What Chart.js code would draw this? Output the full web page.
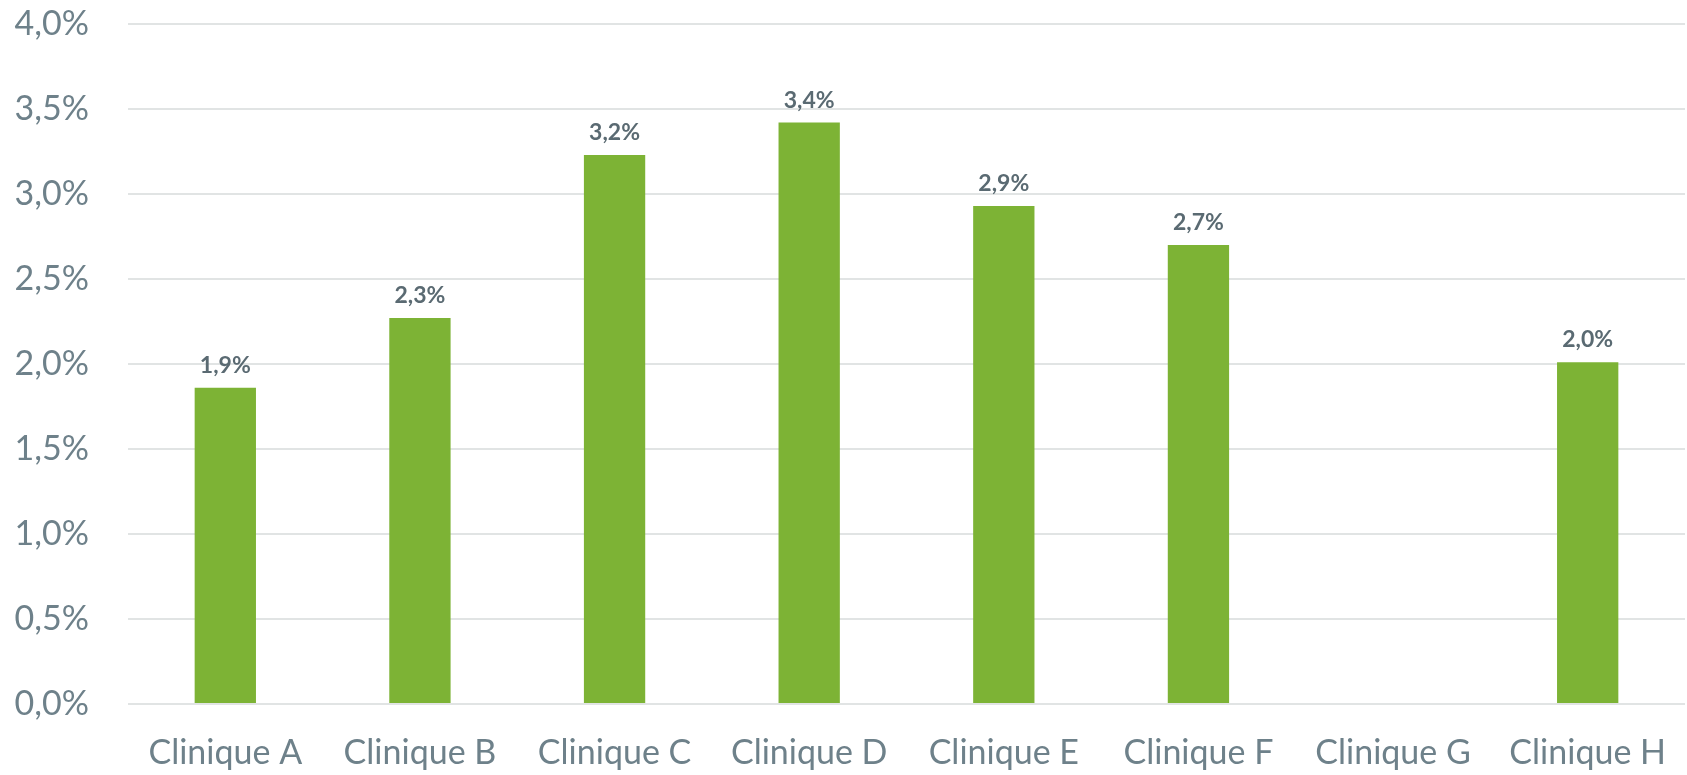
<!DOCTYPE html>
<html>
<head>
<meta charset="utf-8">
<script src="https://cdn.jsdelivr.net/npm/chart.js@4/dist/chart.umd.min.js"></script>
<style>
  html, body { margin: 0; padding: 0; background: #fff; }
  #wrap { width: 1687px; height: 775px; }
</style>
</head>
<body>
<div id="wrap"><canvas id="rateChart"></canvas></div>
<script>
const cliniques = ['Clinique A', 'Clinique B', 'Clinique C', 'Clinique D', 'Clinique E', 'Clinique F', 'Clinique G', 'Clinique H'];
const taux = [1.86, 2.27, 3.23, 3.42, 2.93, 2.70, null, 2.01];
const yMax = 4.0;
const yStep = 0.5;

const fmt = (v, d) => v.toFixed(d).replace('.', ',') + '%';

// values written above each bar
const barLabels = {
    id: 'barLabels',
    afterDatasetsDraw(chart) {
        const ctx = chart.ctx;
        const meta = chart.getDatasetMeta(0);
        ctx.save();
        ctx.font = 'bold 23px Lato';
        ctx.fillStyle = '#5a6a72';
        ctx.textAlign = 'center';
        ctx.textBaseline = 'alphabetic';
        meta.data.forEach((bar, i) => {
            const v = taux[i];
            if (v == null) return;
            ctx.fillText(fmt(v, 1), bar.x, bar.y - 15);
        });
        ctx.restore();
    }
};

const ctx = document.getElementById('rateChart').getContext('2d');
new Chart(ctx, {
    type: 'bar',
    data: {
        labels: cliniques,
        datasets: [{
            data: taux,
            backgroundColor: '#7db335',
            categoryPercentage: 1,
            barPercentage: 0.315
        }]
    },
    options: {
        responsive: true,
        maintainAspectRatio: false,
        animation: false,
        layout: { padding: { top: 24, right: 2, left: 0, bottom: 0 } },
        plugins: {
            legend: { display: false },
            tooltip: { enabled: false }
        },
        scales: {
            x: {
                grid: { display: false, drawTicks: false },
                border: { display: false },
                ticks: {
                    color: '#6e818a',
                    font: { family: 'Lato', size: 34 },
                    padding: 29,
                    maxRotation: 0
                },
                afterFit(scale) {
                    scale.height = 71;
                    scale.paddingLeft = 0;
                    scale.paddingRight = 0;
                }
            },
            y: {
                min: 0,
                max: yMax,
                grid: { color: '#e1e4e4', lineWidth: 2, drawTicks: false },
                border: { display: false },
                ticks: {
                    stepSize: yStep,
                    color: '#6e818a',
                    font: { family: 'Lato', size: 34 },
                    padding: 39,
                    callback: v => fmt(v, 1)
                },
                afterFit(scale) {
                    scale.width = 128;
                    // tick padding would otherwise push the plot down
                    scale.paddingTop = 0;
                    scale.paddingBottom = 0;
                }
            }
        }
    },
    plugins: [barLabels]
});
</script>
</body>
</html>
